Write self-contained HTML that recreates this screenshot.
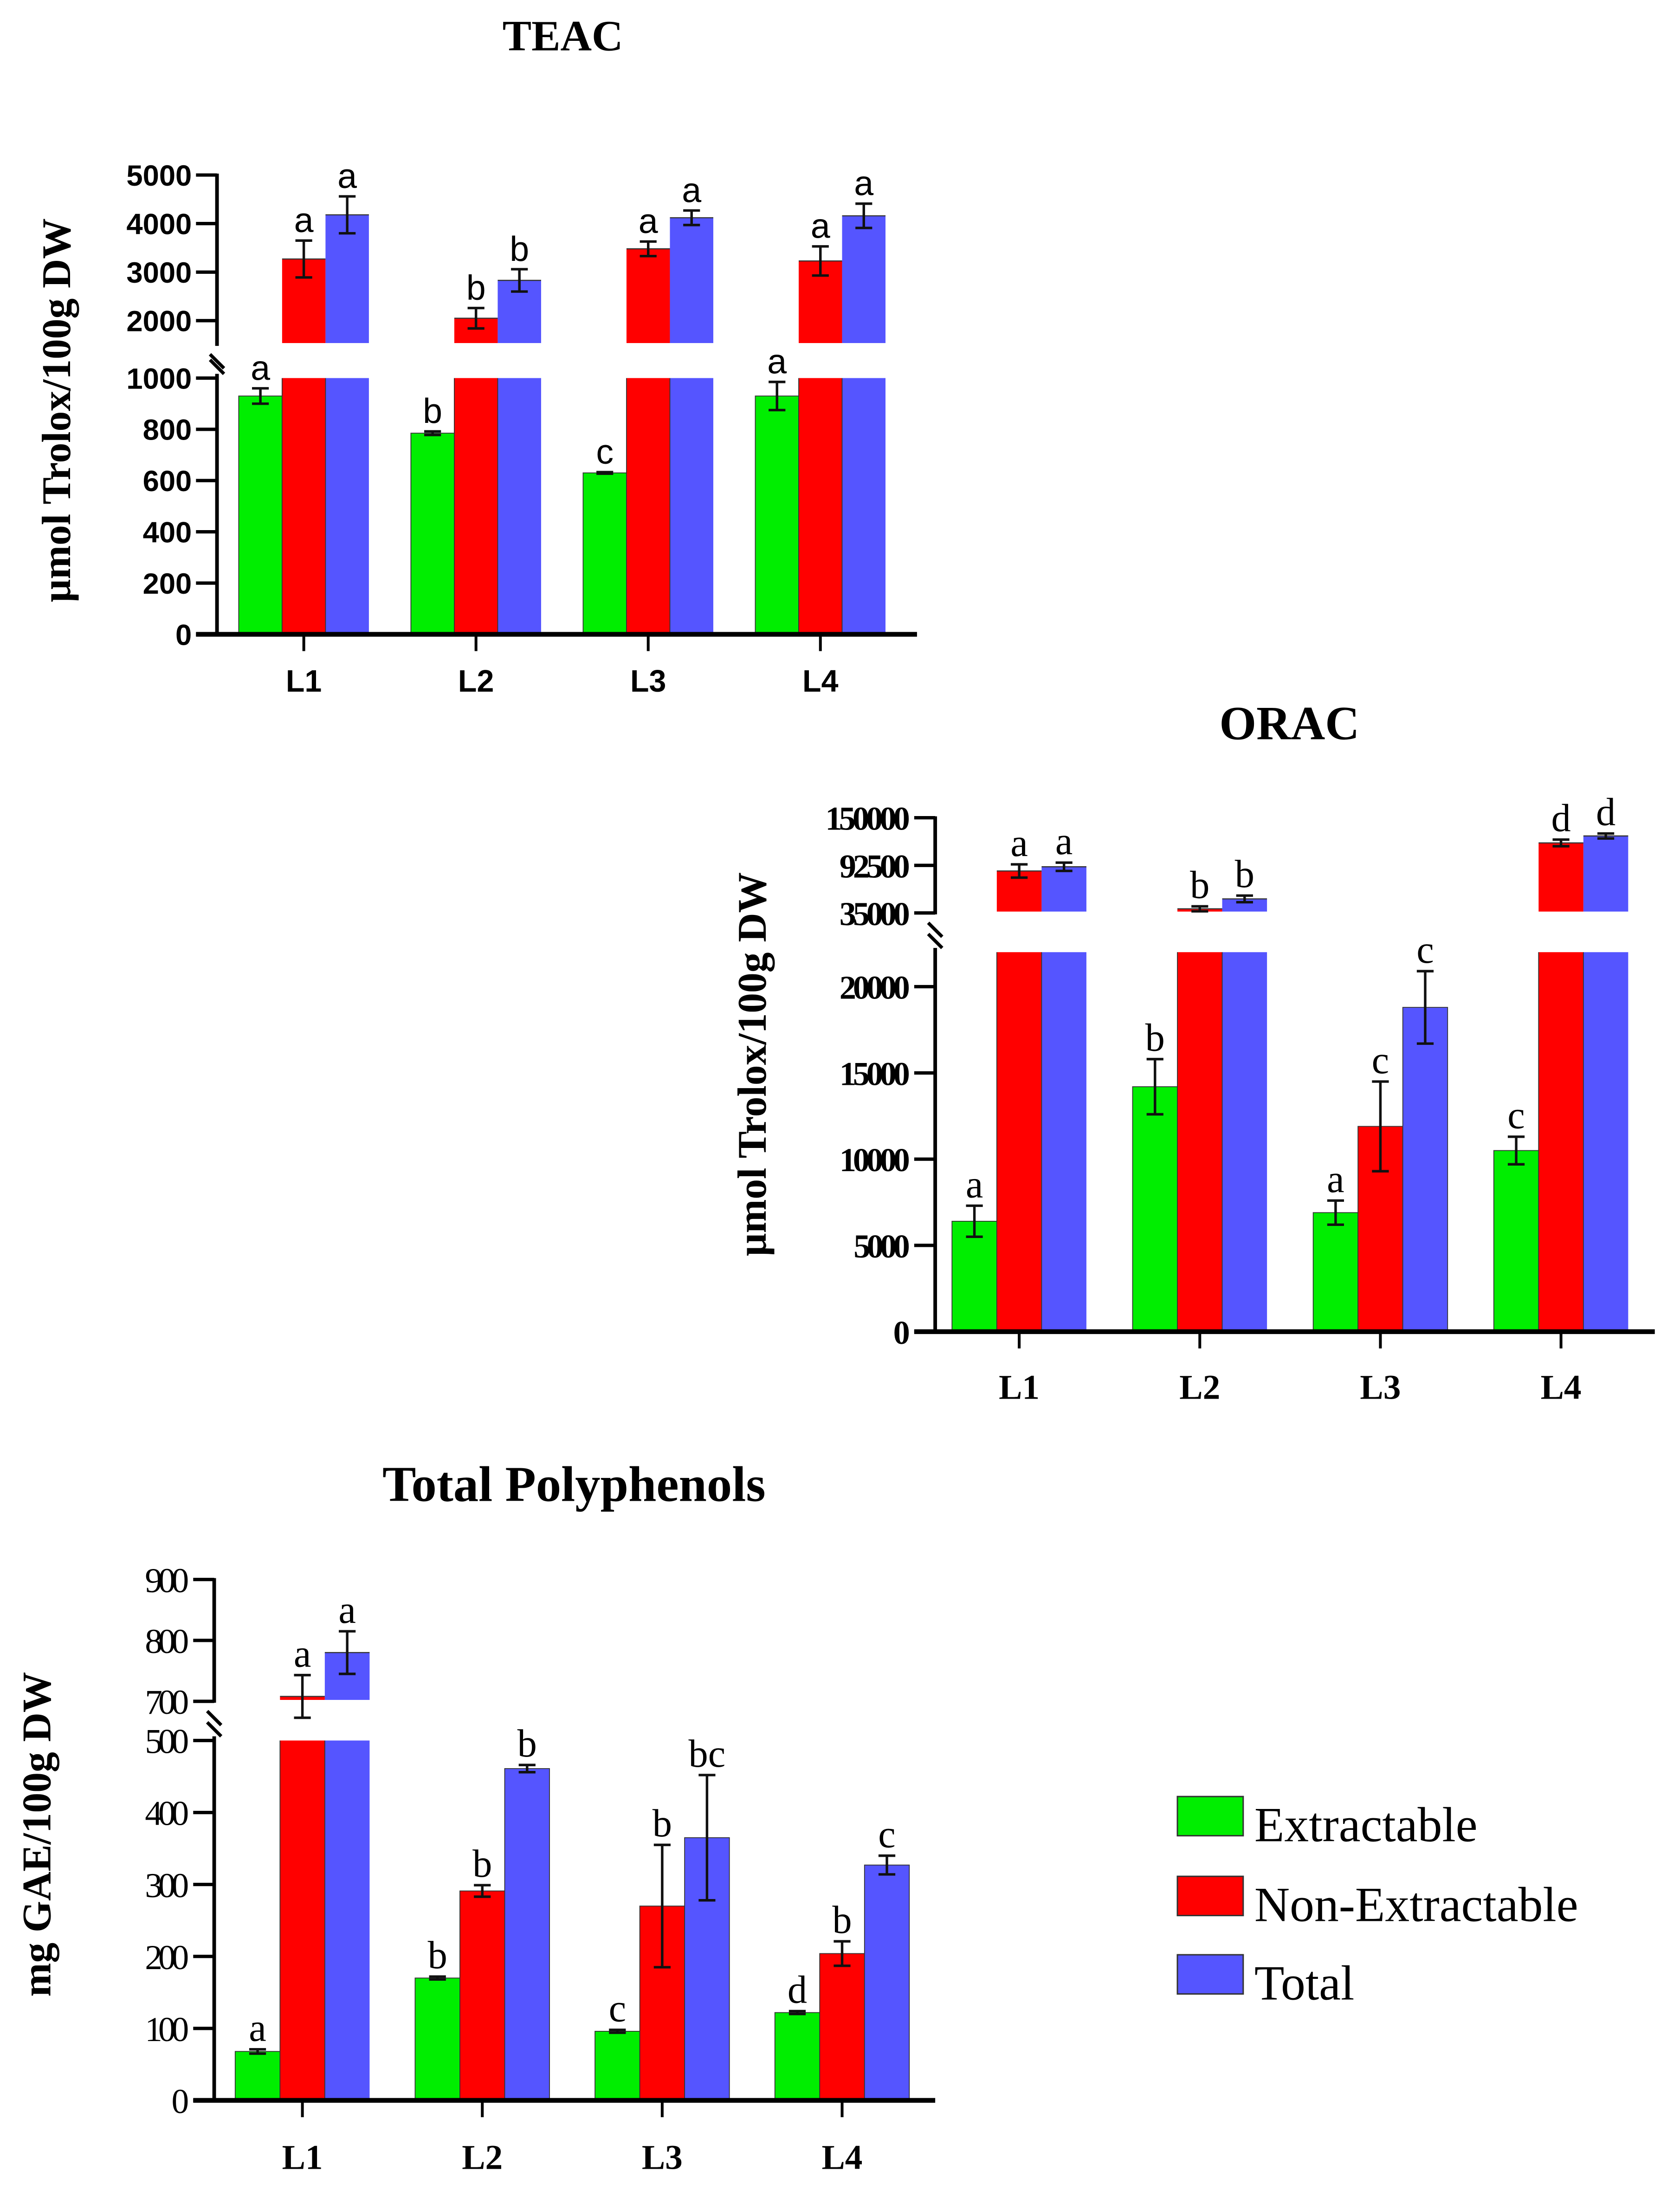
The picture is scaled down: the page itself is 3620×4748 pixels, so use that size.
<!DOCTYPE html>
<html><head><meta charset="utf-8"><style>
html,body{margin:0;padding:0;background:#fff}
svg{display:block}
</style></head><body>
<svg id="fig" xmlns="http://www.w3.org/2000/svg" width="3620" height="4748" viewBox="0 0 1200 1574" preserveAspectRatio="none">
<rect width="1200" height="1574" fill="#fff"/>
</svg>
<script>
const categories = ["L1","L2","L3","L4"];
const seriesNames = ["Extractable","Non-Extractable","Total"];
const teacExt = [930,785,630,930];
const teacExtErr = [30,7,3,55];
const teacNon = [3270,2050,3480,3230];
const teacNonErr = [380,210,150,300];
const teacTot = [4180,2830,4120,4160];
const teacTotErr = [380,230,150,250];
const teacLetters = [["a","b","c","a"],["a","b","a","a"],["a","b","a","a"]];
const teacTicksLow = [0,200,400,600,800,1000];
const teacTicksUp = [2000,3000,4000,5000];

const oracExt = [6400,14200,6900,10500];
const oracExtErr = [900,1600,700,800];
const oracNon = [85700,40000,11900,119600];
const oracNonErr = [8000,3000,2600,4000];
const oracTot = [90800,52000,18800,128000];
const oracTotErr = [5000,4000,2100,3000];
const oracLetters = [["a","b","a","c"],["a","b","c","d"],["a","b","c","d"]];
const oracTicksLow = [0,5000,10000,15000,20000];
const oracTicksUp = [35000,92500,150000];

const tpExt = [68,170,96,122];
const tpExtErr = [3,2,2,2];
const tpNon = [708,291,270,204];
const tpNonErr = [35,8,85,17];
const tpTot = [780,461,365,327];
const tpTotErr = [35,5,87,13];
const tpLetters = [["a","b","c","d"],["a","b","b","b"],["a","b","bc","c"]];
const tpTicksLow = [0,100,200,300,400,500];
const tpTicksUp = [700,800,900];

const colors = ["#00ee00","#ff0000","#5555ff"];
const NS = "http://www.w3.org/2000/svg";
const svg = document.getElementById("fig");
function mk(tag, attrs, parent, text){
  const e = document.createElementNS(NS, tag);
  for (const k in attrs) if (attrs[k] !== null) e.setAttribute(k, attrs[k]);
  if (text !== undefined) e.textContent = text;
  (parent||svg).appendChild(e);
  return e;
}
function chart(c){
  const g = mk("g",{});
  
  
  const kLow = (c.y0 - c.lowTopY)/c.lowMax;
  const kUp = (c.upBaseY - c.upTopY)/(c.upMax - c.upMin);
  const ylow = v => c.y0 - v*kLow;
  const yup = v => c.upBaseY - (v - c.upMin)*kUp;
  const yv = v => v <= c.lowMax ? ylow(v) : yup(v);
  const t = mk("text",{x:c.titleX,y:c.titleY,"text-anchor":"middle","font-family":"Liberation Serif, serif","font-weight":"bold","font-size":c.titleSize},g,c.title);
  
  
  const yt = mk("text",{transform:`translate(${c.ytX},${c.ytY}) rotate(-90)`,"text-anchor":"middle","font-family":"Liberation Serif, serif","font-weight":"bold","font-size":c.ytSize},g,c.ytitle);
  
  
  const series = [c.ext,c.non,c.tot], errs=[c.extErr,c.nonErr,c.totErr];
  const upBottom = c.upBaseY + c.upGap;
  for (let i=0;i<categories.length;i++){
    const cx = c.cx0 + i*c.dx;
    for (let s=0;s<3;s++){
      const x = cx + (s-1.5)*c.bw;
      const v = series[s][i], e = errs[s][i];
      if (v <= c.lowMax){
        const r = mk("rect",{x:x,y:ylow(v),width:c.bw,height:c.y0-ylow(v),fill:colors[s],stroke:"#333","stroke-width":0.6},g);
        
        
      } else {
        const r1 = mk("rect",{x:x,y:c.lowTopY,width:c.bw,height:c.y0-c.lowTopY,fill:colors[s],stroke:"none"},g);
        
        
        mk("line",{x1:x,x2:x,y1:c.lowTopY,y2:c.y0,stroke:"#333","stroke-width":0.6},g);
        const r2 = mk("rect",{x:x,y:yup(v),width:c.bw,height:upBottom-yup(v),fill:colors[s],stroke:"none"},g);
        
        
        mk("line",{x1:x,x2:x+c.bw,y1:yup(v),y2:yup(v),stroke:"#333","stroke-width":0.8},g);
      }
      const xc = x + c.bw/2, yh = yv(v+e), yl = yv(v-e);
      const eb = mk("path",{d:`M${xc},${yh}V${yl}M${xc-6},${yh}H${xc+6}M${xc-6},${yl}H${xc+6}`,stroke:"#111","stroke-width":1.8,fill:"none"},g);
      
      
      const lt = mk("text",{x:xc,y:yh-6,"text-anchor":"middle","font-family":c.letterFont,"font-size":c.letterSize},g,c.letters[s][i]);
      
      
    }
    mk("line",{x1:cx,x2:cx,y1:c.y0,y2:c.y0+12,stroke:"#000","stroke-width":2},g);
    const xl = mk("text",{x:cx,y:c.y0+c.xlabDy,"text-anchor":"middle","font-family":c.xlabFont,"font-weight":"bold","font-size":c.xlabSize},g,categories[i]);
    
    
  }
  const ax = c.axX;
  mk("line",{x1:ax,x2:ax,y1:c.upTopY-1,y2:c.upBaseY+c.upGap+2,stroke:"#000","stroke-width":2.6},g);
  mk("line",{x1:ax,x2:ax,y1:c.lowTopY-3,y2:c.y0,stroke:"#000","stroke-width":2.6},g);
  mk("line",{x1:ax-5,x2:ax+5,y1:c.upBaseY+c.upGap+8,y2:c.upBaseY+c.upGap+18,stroke:"#000","stroke-width":2.4},g);
  mk("line",{x1:ax-5,x2:ax+5,y1:c.lowTopY-13,y2:c.lowTopY-3,stroke:"#000","stroke-width":2.4},g);
  const xa = mk("line",{x1:ax-15,x2:c.axEnd,y1:c.y0,y2:c.y0,stroke:"#000","stroke-width":3.4},g);
  
  
  const ticks = c.ticksLow.map(v=>[v,ylow(v)]).concat(c.ticksUp.map(v=>[v,yup(v)]));
  for (const [v,y] of ticks){
    mk("line",{x1:ax-15,x2:ax,y1:y,y2:y,stroke:"#000","stroke-width":2.4},g);
    const tl = mk("text",{x:ax-18,y:y+c.tickSize*0.36,"text-anchor":"end","font-family":c.tickFont,"font-weight":c.tickWeight,"font-size":c.tickSize,"textLength":c.tickCond?String(v).length*c.tickSize*0.42:null},g,String(v));
    
    
  }
}
chart({id:"teac",title:"TEAC",titleX:402,titleY:36,titleSize:31,ytitle:"μmol Trolox/100g DW",ytX:50,ytY:293,ytSize:29,
  y0:453,lowTopY:270,lowMax:1000,upBaseY:229,upTopY:125,upMin:2000,upMax:5000,upGap:16,
  axX:155,axEnd:655,cx0:217,dx:123,bw:31,ext:teacExt,extErr:teacExtErr,non:teacNon,nonErr:teacNonErr,tot:teacTot,totErr:teacTotErr,
  letters:teacLetters,letterFont:"Liberation Sans, sans-serif",letterSize:25,ticksLow:teacTicksLow,ticksUp:teacTicksUp,
  tickFont:"Liberation Sans, sans-serif",tickWeight:"bold",tickSize:21,tickCond:false,xlabFont:"Liberation Sans, sans-serif",xlabSize:22,xlabDy:41});
chart({id:"orac",title:"ORAC",titleX:921,titleY:528,titleSize:34,ytitle:"μmol Trolox/100g DW",ytX:547,ytY:760,ytSize:29,
  y0:951,lowTopY:680,lowMax:22000,upBaseY:652,upTopY:584,upMin:35000,upMax:150000,upGap:-1,
  axX:668,axEnd:1182,cx0:728,dx:129,bw:32,ext:oracExt,extErr:oracExtErr,non:oracNon,nonErr:oracNonErr,tot:oracTot,totErr:oracTotErr,
  letters:oracLetters,letterFont:"Liberation Serif, serif",letterSize:28,ticksLow:oracTicksLow,ticksUp:oracTicksUp,
  tickFont:"Liberation Serif, serif",tickWeight:"bold",tickSize:24,tickCond:true,xlabFont:"Liberation Serif, serif",xlabSize:25,xlabDy:48});
chart({id:"tp",title:"Total Polyphenols",titleX:410,titleY:1072,titleSize:36,ytitle:"mg GAE/100g DW",ytX:36,ytY:1310,ytSize:29,
  y0:1500,lowTopY:1243,lowMax:500,upBaseY:1215,upTopY:1128,upMin:700,upMax:900,upGap:-1,
  axX:153,axEnd:668,cx0:216,dx:128.5,bw:32,ext:tpExt,extErr:tpExtErr,non:tpNon,nonErr:tpNonErr,tot:tpTot,totErr:tpTotErr,
  letters:tpLetters,letterFont:"Liberation Serif, serif",letterSize:28,ticksLow:tpTicksLow,ticksUp:tpTicksUp,
  tickFont:"Liberation Serif, serif",tickWeight:"normal",tickSize:25,tickCond:true,xlabFont:"Liberation Serif, serif",xlabSize:25,xlabDy:49});
const legY = [1283,1340,1396];
for (let s=0;s<3;s++){
  const r = mk("rect",{x:841,y:legY[s],width:47,height:28,fill:colors[s],stroke:"#333","stroke-width":1});
  
  
  const t = mk("text",{x:896,y:legY[s]+32,"font-family":"Liberation Serif, serif","font-size":35},svg,seriesNames[s]);
  
  
}
</script>
</body></html>
